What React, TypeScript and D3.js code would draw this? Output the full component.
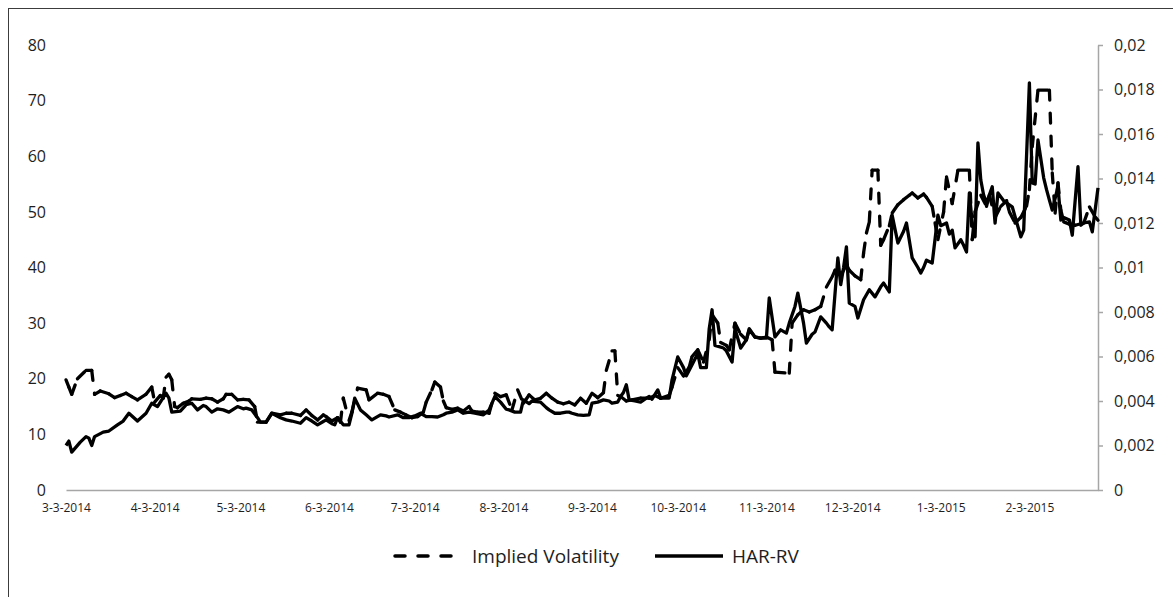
import React, { useEffect, useRef } from 'react';
import * as d3 from 'd3';

// Implied Volatility (left axis)
const ivDates = [
  '2014-03-03', '2014-03-04', '2014-03-05', '2014-03-07', '2014-03-10', '2014-03-12', '2014-03-13', '2014-03-15', '2014-03-18', '2014-03-20', '2014-03-22', '2014-03-24', '2014-03-26', '2014-03-28', '2014-03-31',
  '2014-04-02', '2014-04-03', '2014-04-05', '2014-04-06', '2014-04-07', '2014-04-08', '2014-04-09', '2014-04-10', '2014-04-11', '2014-04-13', '2014-04-15', '2014-04-16', '2014-04-19', '2014-04-21', '2014-04-23', '2014-04-25', '2014-04-27', '2014-04-28', '2014-04-30',
  '2014-05-02', '2014-05-04', '2014-05-06', '2014-05-08', '2014-05-09', '2014-05-12', '2014-05-14', '2014-05-17', '2014-05-19', '2014-05-21', '2014-05-24', '2014-05-26', '2014-05-28', '2014-05-30',
  '2014-06-01', '2014-06-02', '2014-06-04', '2014-06-06', '2014-06-07', '2014-06-08', '2014-06-10', '2014-06-11', '2014-06-13', '2014-06-16', '2014-06-17', '2014-06-20', '2014-06-22', '2014-06-24', '2014-06-26', '2014-06-28', '2014-06-30',
  '2014-07-02', '2014-07-04', '2014-07-06', '2014-07-07', '2014-07-09', '2014-07-10', '2014-07-12', '2014-07-13', '2014-07-14', '2014-07-16', '2014-07-18', '2014-07-20', '2014-07-22', '2014-07-23', '2014-07-25', '2014-07-27', '2014-07-29', '2014-07-31',
  '2014-08-02', '2014-08-04', '2014-08-06', '2014-08-08', '2014-08-10', '2014-08-12', '2014-08-14', '2014-08-16', '2014-08-18', '2014-08-20', '2014-08-22', '2014-08-24', '2014-08-26', '2014-08-28', '2014-08-30',
  '2014-09-01', '2014-09-03', '2014-09-05', '2014-09-07', '2014-09-08', '2014-09-10', '2014-09-11', '2014-09-12', '2014-09-13', '2014-09-15', '2014-09-17', '2014-09-20', '2014-09-23', '2014-09-25', '2014-09-27', '2014-09-30',
  '2014-10-01', '2014-10-03', '2014-10-05', '2014-10-07', '2014-10-08', '2014-10-10', '2014-10-12', '2014-10-14', '2014-10-15', '2014-10-17', '2014-10-18', '2014-10-20', '2014-10-21', '2014-10-23', '2014-10-25', '2014-10-27', '2014-10-28', '2014-10-30',
  '2014-11-01', '2014-11-03', '2014-11-05', '2014-11-06', '2014-11-11', '2014-11-12', '2014-11-14', '2014-11-16', '2014-11-18', '2014-11-20', '2014-11-22', '2014-11-24', '2014-11-26', '2014-11-27', '2014-11-29',
  '2014-12-01', '2014-12-02', '2014-12-04', '2014-12-06', '2014-12-07', '2014-12-08', '2014-12-09', '2014-12-10', '2014-12-12', '2014-12-13', '2014-12-14', '2014-12-16', '2014-12-17', '2014-12-19', '2014-12-21', '2014-12-23', '2014-12-24', '2014-12-26', '2014-12-28', '2014-12-29', '2014-12-31',
  '2015-01-01', '2015-01-02', '2015-01-04', '2015-01-05', '2015-01-07', '2015-01-09', '2015-01-13', '2015-01-14', '2015-01-15', '2015-01-17', '2015-01-19', '2015-01-20', '2015-01-22', '2015-01-24', '2015-01-26', '2015-01-27', '2015-01-29', '2015-01-31',
  '2015-02-02', '2015-02-03', '2015-02-04', '2015-02-06', '2015-02-10', '2015-02-11', '2015-02-12', '2015-02-13', '2015-02-14', '2015-02-15', '2015-02-17', '2015-02-19', '2015-02-22', '2015-02-24', '2015-02-26', '2015-02-27',
];
const ivValues = [
  19.8, 18.5, 17.2, 20.0, 21.5, 21.5, 17.2, 17.8, 17.3, 16.6, 17.0, 17.4, 16.8, 16.2, 17.2,
  18.5, 15.8, 17.0, 16.5, 20.3, 20.8, 19.8, 15.0, 14.8, 15.6, 16.0, 16.4, 16.3, 16.5, 16.4, 15.8, 16.4, 17.2, 17.2,
  16.2, 16.3, 16.2, 15.0, 12.2, 12.2, 13.8, 13.5, 13.8, 13.8, 13.4, 14.4, 13.4, 12.6,
  13.5, 13.2, 12.4, 13.0, 12.2, 16.5, 12.5, 14.0, 18.3, 18.0, 16.2, 17.4, 17.2, 16.8, 14.4, 14.0, 13.5,
  13.0, 13.2, 14.0, 15.8, 18.0, 19.4, 18.5, 16.0, 14.8, 14.5, 14.7, 14.2, 15.0, 14.2, 14.0, 14.0, 13.8, 17.4,
  16.8, 17.1, 14.4, 18.0, 15.6, 17.1, 16.2, 16.5, 17.4, 16.5, 15.8, 15.5, 15.8, 15.3, 16.5,
  15.6, 17.4, 16.6, 17.5, 21.5, 25.0, 25.0, 17.0, 16.8, 16.0, 16.2, 16.5, 16.5, 17.0, 16.5, 17.0,
  18.5, 22.0, 20.5, 22.1, 24.0, 25.2, 23.0, 27.0, 31.5, 30.0, 26.5, 26.0, 25.2, 30.0, 28.0, 27.0, 29.0, 27.5,
  27.3, 27.5, 27.0, 21.2, 21.0, 30.0, 31.5, 32.4, 32.0, 32.4, 33.0, 36.5, 38.3, 39.5, 38.5,
  40.5, 39.5, 38.5, 37.8, 42.6, 46.2, 48.2, 57.5, 57.5, 44.0, 45.0, 47.5, 49.8, 51.3, 52.2, 53.0, 53.4, 52.5, 53.2, 52.6, 51.0,
  48.0, 45.0, 50.0, 56.3, 51.5, 57.5, 57.5, 45.0, 50.0, 53.0, 51.0, 53.0, 49.0, 51.0, 52.0, 50.0, 48.0, 49.0,
  51.0, 54.0, 61.7, 71.9, 71.9, 57.0, 49.8, 55.2, 50.3, 48.2, 47.8, 47.6, 48.0, 50.9, 49.1, 48.5,
];

// HAR-RV (right axis)
const harDates = [
  '2014-03-03', '2014-03-04', '2014-03-05', '2014-03-08', '2014-03-10', '2014-03-11', '2014-03-12', '2014-03-13', '2014-03-16', '2014-03-18', '2014-03-21', '2014-03-23', '2014-03-25', '2014-03-28', '2014-03-31',
  '2014-04-02', '2014-04-04', '2014-04-07', '2014-04-08', '2014-04-09', '2014-04-12', '2014-04-14', '2014-04-16', '2014-04-18', '2014-04-20', '2014-04-21', '2014-04-23', '2014-04-25', '2014-04-27', '2014-04-29',
  '2014-05-02', '2014-05-04', '2014-05-05', '2014-05-07', '2014-05-09', '2014-05-10', '2014-05-12', '2014-05-14', '2014-05-17', '2014-05-19', '2014-05-21', '2014-05-24', '2014-05-26', '2014-05-28', '2014-05-30',
  '2014-06-01', '2014-06-02', '2014-06-04', '2014-06-05', '2014-06-06', '2014-06-08', '2014-06-10', '2014-06-11', '2014-06-12', '2014-06-14', '2014-06-16', '2014-06-18', '2014-06-21', '2014-06-23', '2014-06-24', '2014-06-27', '2014-06-29',
  '2014-07-01', '2014-07-03', '2014-07-05', '2014-07-07', '2014-07-09', '2014-07-11', '2014-07-13', '2014-07-14', '2014-07-16', '2014-07-18', '2014-07-20', '2014-07-22', '2014-07-24', '2014-07-27', '2014-07-29', '2014-07-31',
  '2014-08-02', '2014-08-04', '2014-08-05', '2014-08-07', '2014-08-09', '2014-08-10', '2014-08-12', '2014-08-13', '2014-08-16', '2014-08-18', '2014-08-19', '2014-08-21', '2014-08-23', '2014-08-25', '2014-08-26', '2014-08-27', '2014-08-29', '2014-08-31',
  '2014-09-02', '2014-09-03', '2014-09-05', '2014-09-07', '2014-09-09', '2014-09-10', '2014-09-12', '2014-09-13', '2014-09-14', '2014-09-15', '2014-09-16', '2014-09-18', '2014-09-20', '2014-09-22', '2014-09-23', '2014-09-24', '2014-09-26', '2014-09-27', '2014-09-29', '2014-09-30',
  '2014-10-01', '2014-10-03', '2014-10-05', '2014-10-06', '2014-10-08', '2014-10-10', '2014-10-11', '2014-10-13', '2014-10-14', '2014-10-15', '2014-10-16', '2014-10-19', '2014-10-20', '2014-10-22', '2014-10-23', '2014-10-25', '2014-10-27', '2014-10-28', '2014-10-30',
  '2014-11-01', '2014-11-03', '2014-11-04', '2014-11-06', '2014-11-08', '2014-11-10', '2014-11-11', '2014-11-13', '2014-11-14', '2014-11-16', '2014-11-17', '2014-11-19', '2014-11-20', '2014-11-22', '2014-11-24', '2014-11-25', '2014-11-26', '2014-11-28', '2014-11-29', '2014-11-30',
  '2014-12-01', '2014-12-02', '2014-12-04', '2014-12-05', '2014-12-07', '2014-12-09', '2014-12-11', '2014-12-13', '2014-12-14', '2014-12-16', '2014-12-17', '2014-12-19', '2014-12-21', '2014-12-22', '2014-12-24', '2014-12-26', '2014-12-27', '2014-12-28', '2014-12-29', '2014-12-31',
  '2015-01-02', '2015-01-03', '2015-01-05', '2015-01-06', '2015-01-07', '2015-01-08', '2015-01-10', '2015-01-11', '2015-01-12', '2015-01-13', '2015-01-14', '2015-01-15', '2015-01-16', '2015-01-17', '2015-01-18', '2015-01-19', '2015-01-21', '2015-01-22', '2015-01-23', '2015-01-25', '2015-01-26', '2015-01-28', '2015-01-30', '2015-01-31',
  '2015-02-01', '2015-02-03', '2015-02-04', '2015-02-05', '2015-02-06', '2015-02-08', '2015-02-09', '2015-02-10', '2015-02-11', '2015-02-13', '2015-02-14', '2015-02-15', '2015-02-17', '2015-02-18', '2015-02-20', '2015-02-21', '2015-02-22', '2015-02-24', '2015-02-25', '2015-02-27',
];
const harValues = [
  0.00200, 0.00220, 0.00170, 0.00215, 0.00240, 0.00233, 0.00200, 0.00240, 0.00260, 0.00265, 0.00293, 0.00310, 0.00345, 0.00310, 0.00345,
  0.00390, 0.00375, 0.00435, 0.00413, 0.00350, 0.00355, 0.00383, 0.00390, 0.00360, 0.00380, 0.00375, 0.00350, 0.00365, 0.00360, 0.00350,
  0.00375, 0.00365, 0.00368, 0.00360, 0.00325, 0.00305, 0.00305, 0.00345, 0.00325, 0.00315, 0.00310, 0.00300, 0.00325, 0.00310, 0.00293,
  0.00308, 0.00315, 0.00298, 0.00293, 0.00325, 0.00293, 0.00293, 0.00345, 0.00413, 0.00360, 0.00338, 0.00315, 0.00338, 0.00333, 0.00328, 0.00338, 0.00325,
  0.00325, 0.00333, 0.00345, 0.00330, 0.00330, 0.00328, 0.00338, 0.00345, 0.00350, 0.00360, 0.00345, 0.00350, 0.00345, 0.00338, 0.00360, 0.00420,
  0.00395, 0.00363, 0.00360, 0.00350, 0.00350, 0.00405, 0.00388, 0.00400, 0.00395, 0.00370, 0.00360, 0.00345, 0.00345, 0.00350, 0.00350, 0.00345, 0.00338, 0.00335,
  0.00338, 0.00390, 0.00395, 0.00405, 0.00400, 0.00390, 0.00395, 0.00420, 0.00438, 0.00473, 0.00405, 0.00400, 0.00395, 0.00413, 0.00420, 0.00408, 0.00450, 0.00413, 0.00413, 0.00413,
  0.00495, 0.00598, 0.00550, 0.00513, 0.00563, 0.00613, 0.00550, 0.00550, 0.00725, 0.00810, 0.00650, 0.00638, 0.00625, 0.00575, 0.00725, 0.00638, 0.00675, 0.00720, 0.00688,
  0.00683, 0.00683, 0.00863, 0.00688, 0.00720, 0.00705, 0.00750, 0.00825, 0.00885, 0.00750, 0.00660, 0.00700, 0.00710, 0.00778, 0.00750, 0.00733, 0.00720, 0.01043, 0.00923, 0.01000,
  0.01093, 0.00840, 0.00825, 0.00773, 0.00855, 0.00900, 0.00868, 0.00913, 0.00930, 0.00890, 0.01235, 0.01110, 0.01163, 0.01200, 0.01043, 0.01000, 0.00975, 0.01000, 0.01033, 0.01020,
  0.01235, 0.01188, 0.01200, 0.01150, 0.01168, 0.01088, 0.01125, 0.01100, 0.01070, 0.01335, 0.01200, 0.01138, 0.01560, 0.01393, 0.01325, 0.01290, 0.01363, 0.01200, 0.01335, 0.01300, 0.01290, 0.01273, 0.01183, 0.01138,
  0.01168, 0.01830, 0.01380, 0.01375, 0.01573, 0.01403, 0.01350, 0.01303, 0.01258, 0.01363, 0.01213, 0.01225, 0.01213, 0.01145, 0.01453, 0.01190, 0.01200, 0.01205, 0.01160, 0.01358,
];

const monthTicks = [
  '2014-03-03', '2014-04-03', '2014-05-03', '2014-06-03', '2014-07-03', '2014-08-03',
  '2014-09-03', '2014-10-03', '2014-11-03', '2014-12-03', '2015-01-03', '2015-02-03',
];
const leftTicks = [0, 10, 20, 30, 40, 50, 60, 70, 80];
const rightTicks = [0, 0.002, 0.004, 0.006, 0.008, 0.01, 0.012, 0.014, 0.016, 0.018, 0.02];
const seriesNames = ['Implied Volatility', 'HAR-RV'];

const FONT = "'Open Sans', sans-serif";
const TEXT = '#1e1e1e';
const AXIS = '#a6a6a6';
const LINE_W = 3.3;

const App = () => {
  const ref = useRef<SVGSVGElement>(null);

  useEffect(() => {
    const svg = d3.select(ref.current);
    svg.selectAll('*').remove();

    const parse = d3.timeParse('%Y-%m-%d');
    const left = 66;
    const right = 1098;
    const top = 45;
    const bottom = 490;

    // Escalas
    const x = d3.scaleTime()
      .domain(d3.extent(harDates, d => parse(d)) as [Date, Date])
      .range([left, right]);
    const yL = d3.scaleLinear().domain([0, 80]).range([bottom, top]);
    const yR = d3.scaleLinear().domain([0, 0.02]).range([bottom, top]);

    const comma = d3.formatLocale({ decimal: ',', thousands: '.', grouping: [3], currency: ['', ''] });
    const fmtR = comma.format('~g');

    // marco
    svg.append('rect')
      .attr('x', 8.5).attr('y', 8.5)
      .attr('width', 1300).attr('height', 800)
      .attr('fill', 'none')
      .attr('stroke', '#3c3c3c')
      .attr('stroke-width', 1);

    // Ejes
    const gx = svg.append('g')
      .attr('transform', `translate(0, ${bottom})`)
      .call(d3.axisBottom(x)
        .tickValues(monthTicks.map(d => parse(d) as Date))
        .tickFormat(d3.timeFormat('%-m-%-d-%Y') as any)
        .tickSize(0)
        .tickSizeOuter(0)
        .tickPadding(13));
    gx.select('.domain').attr('stroke', AXIS).attr('stroke-width', 1.5);
    gx.selectAll('text').attr('font-family', FONT).attr('font-size', 12).attr('fill', TEXT);

    const gl = svg.append('g')
      .attr('transform', `translate(${left}, 0)`)
      .call(d3.axisLeft(yL).tickValues(leftTicks).tickSize(0).tickPadding(20));
    gl.select('.domain').remove();
    gl.selectAll('text').attr('font-family', FONT).attr('font-size', 16).attr('fill', TEXT);

    const gr = svg.append('g')
      .attr('transform', `translate(${right}, 0)`)
      .call(d3.axisRight(yR).tickValues(rightTicks).tickFormat(d => fmtR(d as number))
        .tickSize(5).tickSizeOuter(0).tickPadding(11));
    gr.select('.domain').attr('stroke', AXIS).attr('stroke-width', 1.5);
    gr.selectAll('.tick line').attr('stroke', AXIS).attr('stroke-width', 1.5);
    gr.selectAll('text').attr('font-family', FONT).attr('font-size', 16).attr('fill', TEXT);

    // Implied Volatility: each segment dashed on its own
    const ivPts = ivDates.map((d, i) => [x(parse(d) as Date), yL(ivValues[i])]);
    svg.append('g')
      .selectAll('line')
      .data(d3.pairs(ivPts))
      .enter()
      .append('line')
      .attr('x1', d => d[0][0]).attr('y1', d => d[0][1])
      .attr('x2', d => d[1][0]).attr('y2', d => d[1][1])
      .attr('stroke', '#000')
      .attr('stroke-width', LINE_W)
      .attr('stroke-linecap', 'round')
      .attr('stroke-dasharray', '10 13');

    // HAR-RV
    const har = harDates.map((d, i) => ({ date: parse(d) as Date, v: harValues[i] }));
    svg.append('path')
      .datum(har)
      .attr('fill', 'none')
      .attr('stroke', '#000')
      .attr('stroke-width', LINE_W)
      .attr('stroke-linejoin', 'round')
      .attr('d', d3.line<{ date: Date; v: number }>().x(d => x(d.date)).y(d => yR(d.v)));

    // Leyenda
    const ly = 556;
    svg.append('line')
      .attr('x1', 395).attr('x2', 455).attr('y1', ly).attr('y2', ly)
      .attr('stroke', '#000').attr('stroke-width', 3.5)
      .attr('stroke-linecap', 'round').attr('stroke-dasharray', '10 13');
    svg.append('text')
      .attr('x', 472).attr('y', 563)
      .attr('font-family', FONT).attr('font-size', 19).attr('fill', TEXT)
      .text(seriesNames[0]);
    svg.append('line')
      .attr('x1', 655).attr('x2', 723).attr('y1', ly).attr('y2', ly)
      .attr('stroke', '#000').attr('stroke-width', 3.5);
    svg.append('text')
      .attr('x', 732).attr('y', 563)
      .attr('font-family', FONT).attr('font-size', 19).attr('fill', TEXT)
      .text(seriesNames[1]);
  }, []);

  return (
    <div style={{ position: 'fixed', left: 0, top: 0, background: '#fff' }}>
      <svg ref={ref} width={1173} height={597} style={{ display: 'block' }} />
    </div>
  );
};

export default App;
